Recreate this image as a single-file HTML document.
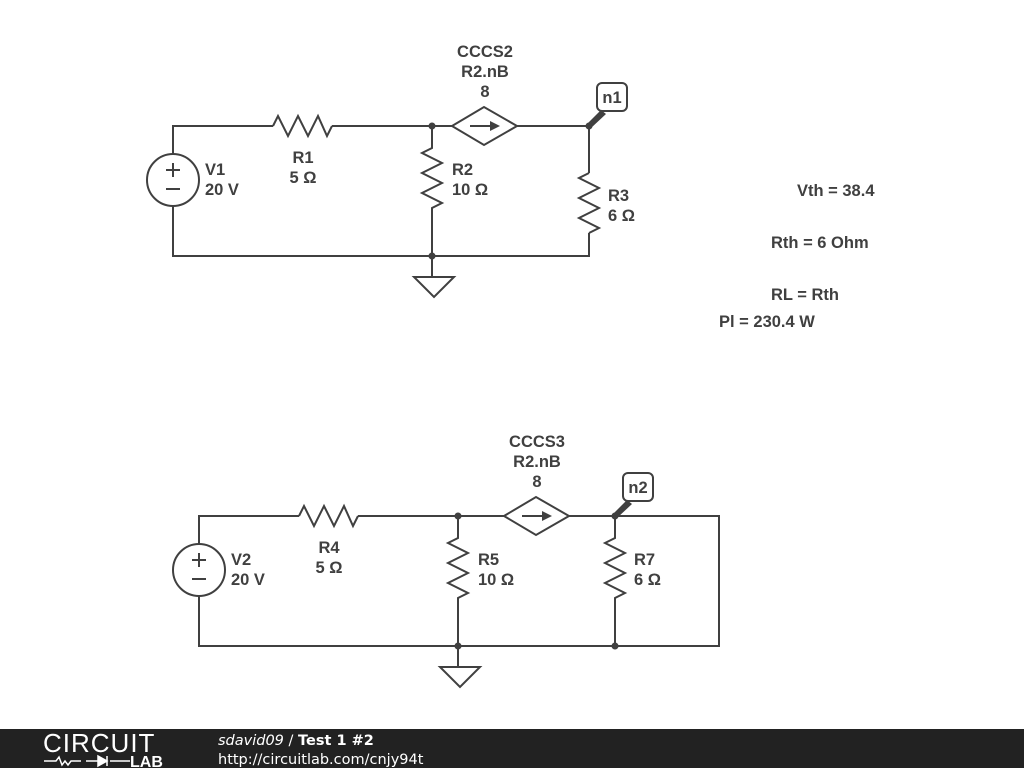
<!DOCTYPE html>
<html><head><style>
body{margin:0;width:1024px;height:768px;background:#fff;overflow:hidden;font-family:"Liberation Sans",sans-serif}
svg text{font-family:"Liberation Sans",sans-serif;font-weight:bold;font-size:16.5px;fill:#404040}
</style></head><body>
<svg width="1024" height="768" viewBox="0 0 1024 768" xmlns="http://www.w3.org/2000/svg">
<g stroke="#404040" stroke-width="2" fill="none">
<path d="M173 154V126H273M332 126H452M517 126H589V173M589 233V256H173V206"/>
<circle cx="173" cy="180" r="26"/>
<path d="M166 170h14M173 163v14M166 189h14"/>
<path d="M273 126l5 -10l10 20l10 -20l10 20l10 -20l9 20l5 -10"/>
<path d="M432 126V148l-10 5l20 10l-20 10l20 10l-20 10l20 10l-10 5V276"/>
<path d="M589 173l-10 5l20 10l-20 10l20 10l-20 10l20 10l-10 5"/>
<path d="M452 126l32 -19l33 19l-33 19z"/>
<path d="M470 126h20"/>
<path d="M414 277h40l-20 20z"/>
<path d="M199 544V516H299M358 516H504M569 516H719V646H199V596"/>
<circle cx="199" cy="570" r="26"/>
<path d="M192 560h14M199 553v14M192 579h14"/>
<path d="M299 516l5 -10l10 20l10 -20l10 20l10 -20l9 20l5 -10"/>
<path d="M458 516V538l-10 5l20 10l-20 10l20 10l-20 10l20 10l-10 5V666"/>
<path d="M615 516V538l-10 5l20 10l-20 10l20 10l-20 10l20 10l-10 5V646"/>
<path d="M504 516l32 -19l33 19l-33 19z"/>
<path d="M522 516h20"/>
<path d="M440 667h40l-20 20z"/>
</g>
<g fill="#404040">
<path d="M490 121l10 5l-10 5z"/><path d="M542 511l10 5l-10 5z"/>
<circle cx="432" cy="126" r="3.5"/><circle cx="589" cy="126" r="3.5"/><circle cx="432" cy="256" r="3.5"/>
<circle cx="458" cy="516" r="3.5"/><circle cx="615" cy="516" r="3.5"/><circle cx="458" cy="646" r="3.5"/><circle cx="615" cy="646" r="3.5"/>
<path d="M587 124l14 -14l5 4l-15 14z"/><path d="M613 514l14 -14l5 4l-15 14z"/>
</g>
<rect x="597" y="83" width="30" height="28" rx="5" fill="#fff" stroke="#404040" stroke-width="2"/>
<rect x="623" y="473" width="30" height="28" rx="5" fill="#fff" stroke="#404040" stroke-width="2"/>
<text x="612" y="103" text-anchor="middle">n1</text>
<text x="638" y="493" text-anchor="middle">n2</text>
<g text-anchor="middle">
<text x="485" y="57">CCCS2</text><text x="485" y="77">R2.nB</text><text x="485" y="97">8</text>
<text x="537" y="447">CCCS3</text><text x="537" y="467">R2.nB</text><text x="537" y="487">8</text>
<text x="303" y="163">R1</text><text x="303" y="183">5 Ω</text>
<text x="329" y="553">R4</text><text x="329" y="573">5 Ω</text>
</g>
<text x="205" y="175">V1</text><text x="205" y="195">20 V</text>
<text x="452" y="175">R2</text><text x="452" y="195">10 Ω</text>
<text x="608" y="201">R3</text><text x="608" y="221">6 Ω</text>
<text x="231" y="565">V2</text><text x="231" y="585">20 V</text>
<text x="478" y="565">R5</text><text x="478" y="585">10 Ω</text>
<text x="634" y="565">R7</text><text x="634" y="585">6 Ω</text>
<text x="797" y="196">Vth = 38.4</text>
<text x="771" y="248">Rth = 6 Ohm</text>
<text x="771" y="300">RL = Rth</text>
<text x="719" y="327">Pl = 230.4 W</text>
<rect x="0" y="729" width="1024" height="39" fill="#222"/>
<text x="43" y="752" style="font-weight:normal;font-size:26px;fill:#fff;letter-spacing:1px">CIRCUIT</text>
<path d="M44 761h12l3 -4l3 8l3 -4l3 4l3 -4h10M86 761h12M110 761h20" stroke="#fff" stroke-width="1.5" fill="none"/>
<path d="M98 756v10l9 -5z M107 756v10" fill="#fff" stroke="#fff" stroke-width="1.5"/>
<text x="130" y="767" style="font-size:16px;fill:#fff">LAB</text>
<text x="218" y="745" style="font-weight:normal;font-style:italic;fill:#fff;font-family:'DejaVu Sans',sans-serif;font-size:14.5px">sdavid09 <tspan style="font-style:normal">/</tspan> <tspan style="font-style:normal;font-weight:bold">Test 1 #2</tspan></text>
<text x="218" y="764" style="font-weight:normal;fill:#fff;font-family:'DejaVu Sans',sans-serif;font-size:14.5px">http://circuitlab.com/cnjy94t</text>
</svg>
</body></html>
